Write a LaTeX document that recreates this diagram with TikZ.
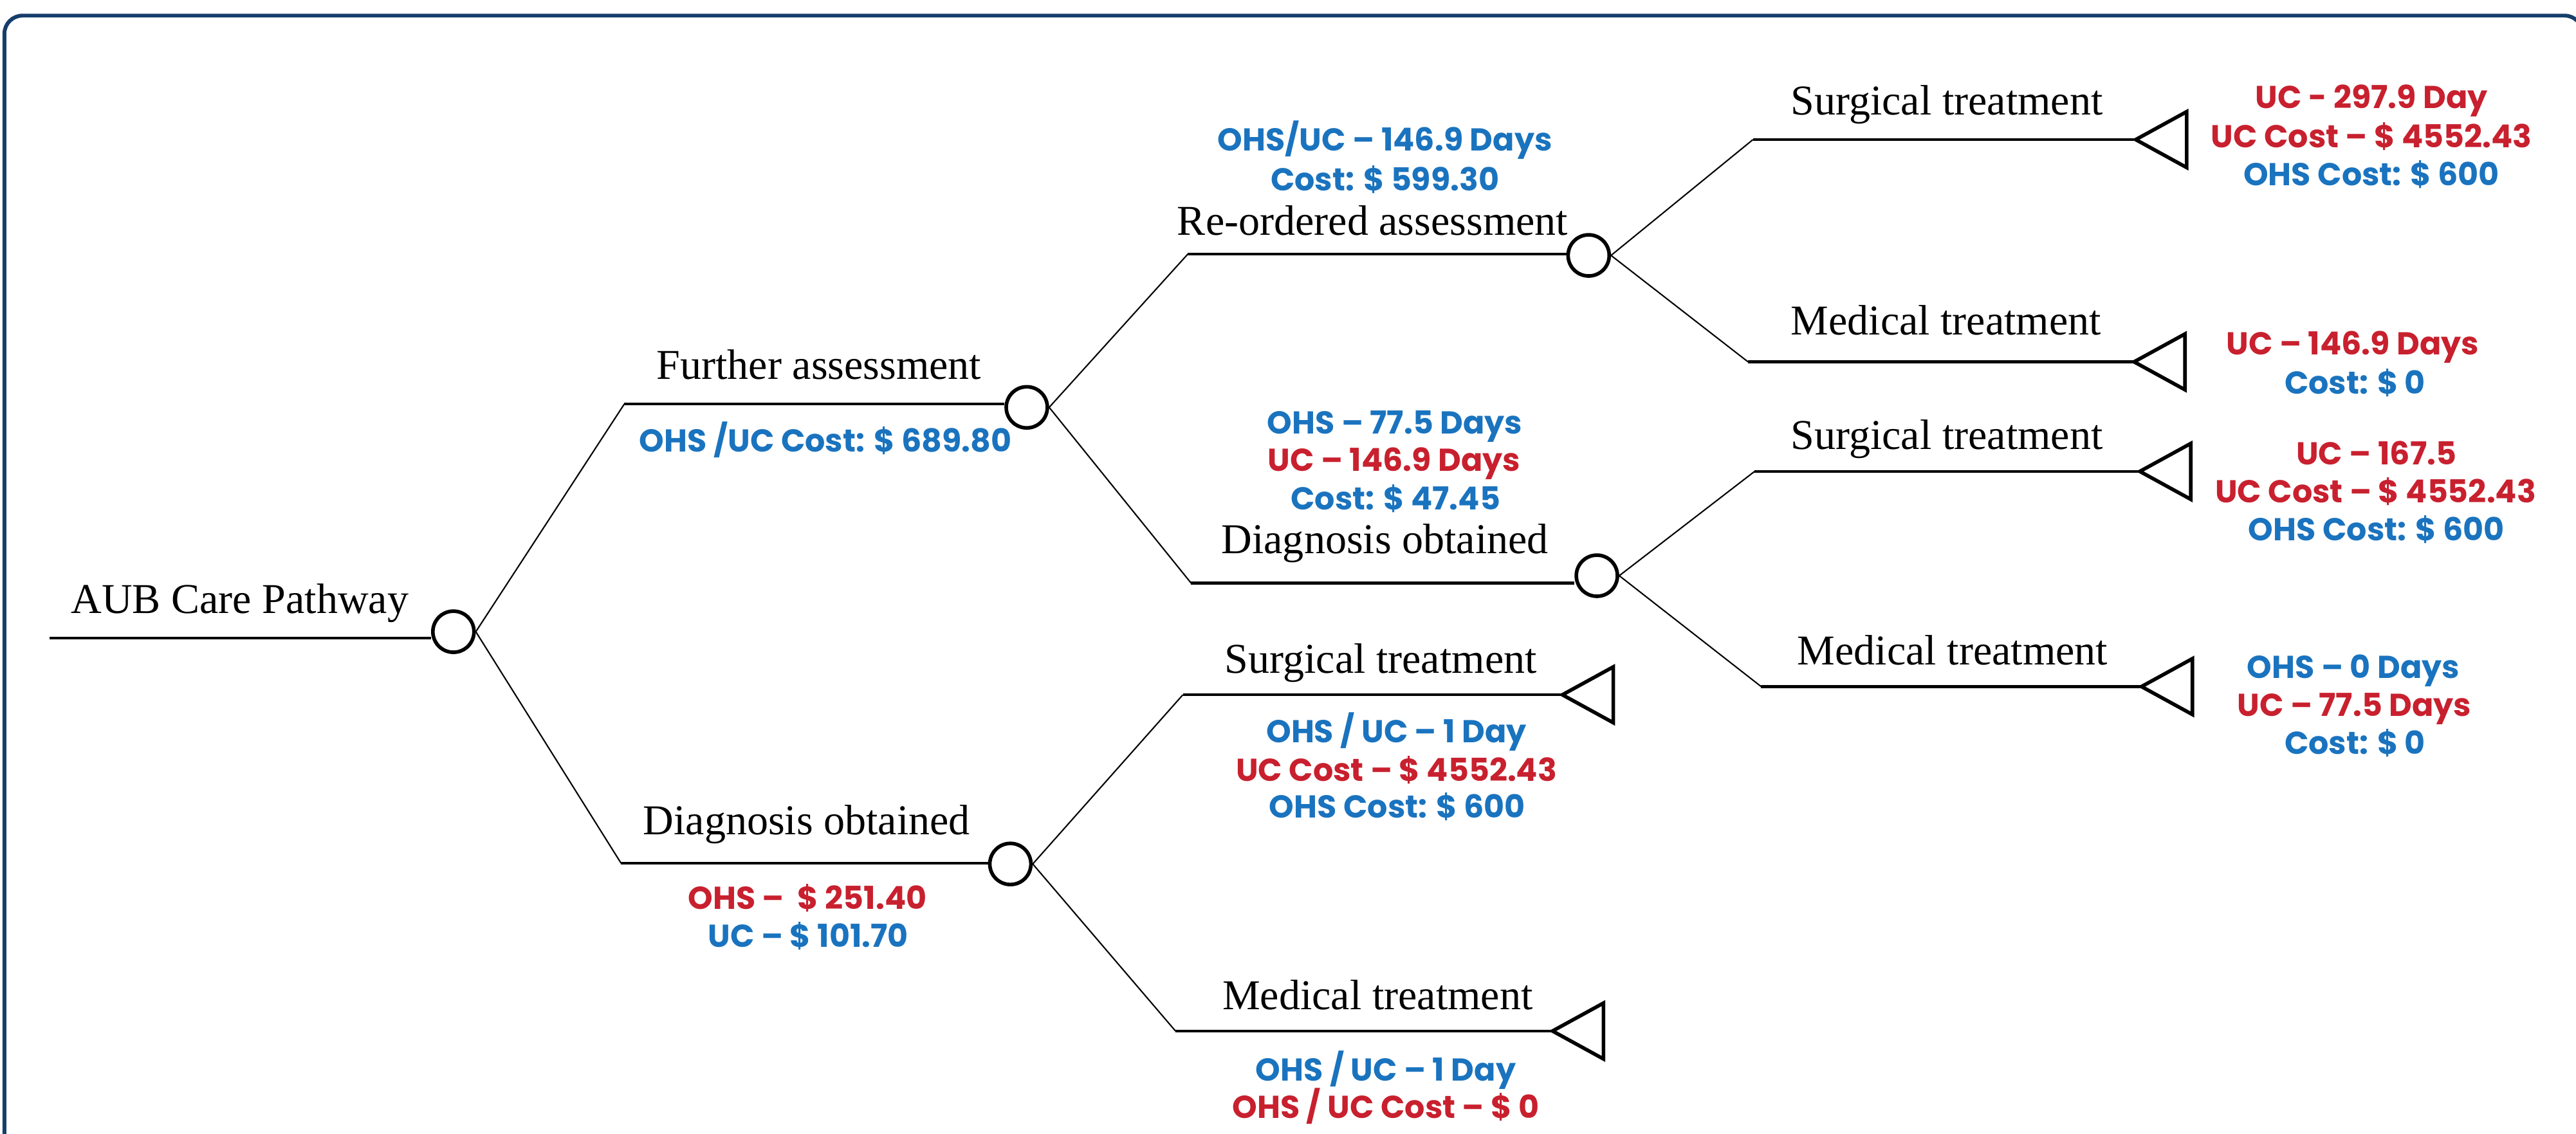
\documentclass[tikz,border=0pt]{standalone}
\usepackage{fontspec}
\setmainfont{Liberation Serif}
\newfontfamily\labfont{Poppins}
\definecolor{lblue}{RGB}{26,115,190}
\definecolor{lred}{RGB}{200,32,46}
\definecolor{framecol}{RGB}{22,62,107}
\tikzset{
  lbl/.style={anchor=base, inner sep=0pt, font=\fontsize{18.8}{20}\selectfont},
  val/.style={anchor=base, inner sep=0pt, font=\labfont\bfseries\fontsize{14}{16}\selectfont},
  bl/.style={val, text=lblue},
  rd/.style={val, text=lred},
  chance/.style={circle, draw, line width=1.6pt, minimum size=18.2pt, inner sep=0pt},
  hline/.style={line width=1.2pt},
  dline/.style={line width=0.6pt},
  term/.style={line width=1.6pt, line join=miter},
}
\begin{document}
\begin{tikzpicture}[x=0.025536cm,y=-0.025536cm]
\useasboundingbox (0,0) rectangle (1568,690.4);
\clip (0,0) rectangle (1568,690.4);
\draw[framecol, line width=1.7pt, rounded corners=8pt] (2.7,9.5) rectangle (1572,760);

% chance nodes
\node[chance] (root) at (276,384.6) {};
\node[chance] (fa) at (625,248) {};
\node[chance] (do1) at (615,526) {};
\node[chance] (ra) at (967,155.5) {};
\node[chance] (do2) at (972,350.5) {};

% branch starts
\coordinate (r0) at (30,388.5);
\coordinate (fa0) at (380,246);
\coordinate (do10) at (378,525.5);
\coordinate (ra0) at (723,154.7);
\coordinate (do20) at (725,355);

\draw[hline] (r0) -- (r0 -| root.west);
\draw[hline] (fa0) -- (fa0 -| fa.west);
\draw[hline] (do10) -- (do10 -| do1.west);
\draw[hline] (ra0) -- (ra0 -| ra.west);
\draw[hline] (do20) -- (do20 -| do2.west);

\draw[dline] (root.east) -- (fa0);
\draw[dline] (root.east) -- (do10);
\draw[dline] (fa.east) -- (ra0);
\draw[dline] (fa.east) -- (do20);

% terminal branches
\coordinate (s1a) at (720,423);    \coordinate (s1) at (951,423);
\coordinate (m1a) at (715.5,627.7); \coordinate (m1) at (945,627.7);
\coordinate (s2a) at (1067,85);    \coordinate (s2) at (1300,85);
\coordinate (m2a) at (1064,220.3); \coordinate (m2) at (1299,220.3);
\coordinate (s3a) at (1068,287);   \coordinate (s3) at (1302.5,287);
\coordinate (m3a) at (1072,418);   \coordinate (m3) at (1303.5,418);

\draw[dline] (do1.east) -- (s1a);
\draw[dline] (do1.east) -- (m1a);
\draw[dline] (ra.east) -- (s2a);
\draw[dline] (ra.east) -- (m2a);
\draw[dline] (do2.east) -- (s3a);
\draw[dline] (do2.east) -- (m3a);

\foreach \a/\b in {s1a/s1, m1a/m1, s2a/s2, m2a/m2, s3a/s3, m3a/m3}{
  \draw[hline] (\a) -- (\b);
  \draw[term] (\b) -- ++(31,-17) -- ++(0,34) -- cycle;
}

% black labels
\node[lbl] (t0) at (146,373.3) {AUB Care Pathway};
\node[lbl] (t1) at (498.5,231) {Further assessment};
\node[lbl] (t2) at (491,508) {Diagnosis obtained};
\node[lbl] (t3) at (835.5,143) {Re-ordered assessment};
\node[lbl] (t4) at (843,337) {Diagnosis obtained};
\node[lbl] (t5) at (840.5,409.7) {Surgical treatment};
\node[lbl] (t6) at (838.5,614.7) {Medical treatment};
\node[lbl] (t7) at (1185,70) {Surgical treatment};
\node[lbl] (t8) at (1184.5,204) {Medical treatment};
\node[lbl] (t9) at (1185,273.7) {Surgical treatment};
\node[lbl] (t10) at (1188.5,404.6) {Medical treatment};

% values
\node[bl] (v1) at (502.5,275) {OHS /UC Cost: \$ 689.80};

\node[rd] (v2a) at (491.5,553.7) {OHS –\ \ \$ 251.40};
\node[bl] (v2b) at (492,576.5) {UC – \$ 101.70};

\node[bl] (v3a) at (843,92) {OHS/UC – 146.9 Days};
\node[bl] (v3b) at (843,116) {Cost: \$ 599.30};

\node[bl] (v4a) at (849,264) {OHS – 77.5 Days};
\node[rd] (v4b) at (848.5,287) {UC – 146.9 Days};
\node[bl] (v4c) at (849.5,310.5) {Cost: \$ 47.45};

\node[bl] (v5a) at (850,452) {OHS / UC – 1 Day};
\node[rd] (v5b) at (850,475.5) {UC Cost – \$ 4552.43};
\node[bl] (v5c) at (850.5,498) {OHS Cost: \$ 600};

\node[bl] (v6a) at (843.5,658) {OHS / UC – 1 Day};
\node[rd] (v6b) at (843.5,680.7) {OHS / UC Cost – \$ 0};

\node[rd] (v7a) at (1443.5,66) {UC - 297.9 Day};
\node[rd] (v7b) at (1443.5,90) {UC Cost – \$ 4552.43};
\node[bl] (v7c) at (1443.5,113) {OHS Cost: \$ 600};

\node[rd] (v8a) at (1432,216) {UC – 146.9 Days};
\node[bl] (v8b) at (1433.5,240) {Cost: \$ 0};

\node[rd] (v9a) at (1446.5,283) {UC – 167.5};
\node[rd] (v9b) at (1446,306) {UC Cost – \$ 4552.43};
\node[bl] (v9c) at (1446.5,329) {OHS Cost: \$ 600};

\node[bl] (v10a) at (1432.5,412.8) {OHS – 0 Days};
\node[rd] (v10b) at (1433,436) {UC – 77.5 Days};
\node[bl] (v10c) at (1433.5,459) {Cost: \$ 0};
\end{tikzpicture}
\end{document}
